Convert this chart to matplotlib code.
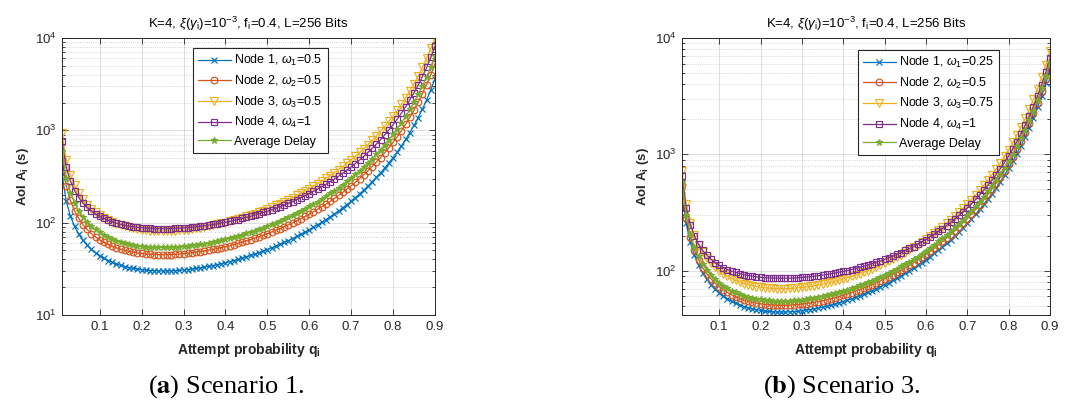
import numpy as np
import matplotlib
matplotlib.use("Agg")
import matplotlib.pyplot as plt
from matplotlib.ticker import LogLocator, FixedLocator

plt.rcParams['font.family'] = ['Liberation Sans', 'DejaVu Sans']
plt.rcParams['mathtext.fontset'] = 'custom'
plt.rcParams['mathtext.rm'] = 'Liberation Sans'
plt.rcParams['mathtext.it'] = 'Liberation Sans:italic'
plt.rcParams['mathtext.bf'] = 'Liberation Sans:bold'

# attempt probability q_i
q = [0.01, 0.02, 0.03, 0.04, 0.05, 0.06, 0.07, 0.08, 0.09, 0.10,
     0.11, 0.12, 0.13, 0.14, 0.15, 0.16, 0.17, 0.18, 0.19, 0.20,
     0.21, 0.22, 0.23, 0.24, 0.25, 0.26, 0.27, 0.28, 0.29, 0.30,
     0.31, 0.32, 0.33, 0.34, 0.35, 0.36, 0.37, 0.38, 0.39, 0.40,
     0.41, 0.42, 0.43, 0.44, 0.45, 0.46, 0.47, 0.48, 0.49, 0.50,
     0.51, 0.52, 0.53, 0.54, 0.55, 0.56, 0.57, 0.58, 0.59, 0.60,
     0.61, 0.62, 0.63, 0.64, 0.65, 0.66, 0.67, 0.68, 0.69, 0.70,
     0.71, 0.72, 0.73, 0.74, 0.75, 0.76, 0.77, 0.78, 0.79, 0.80,
     0.81, 0.82, 0.83, 0.84, 0.85, 0.86, 0.87, 0.88, 0.89, 0.90]

# Scenario 1 (AoI in s)
s1_node1 = [334, 172, 118, 91.0, 75.0, 64.4, 56.9, 51.4, 47.1, 43.8,
            41.1, 38.9, 37.2, 35.7, 34.5, 33.5, 32.6, 32.0, 31.4, 30.9,
            30.6, 30.3, 30.2, 30.0, 30.0, 30.0, 30.1, 30.3, 30.5, 30.8,
            31.1, 31.5, 32.0, 32.4, 33.0, 33.6, 34.3, 35.1, 35.9, 36.8,
            37.8, 38.9, 40.0, 41.2, 42.6, 44.1, 45.6, 47.4, 49.2, 51.2,
            53.4, 55.7, 58.3, 61.0, 64.0, 67.3, 70.9, 74.8, 79.1, 83.8,
            89.0, 94.7, 101, 108, 116, 124, 134, 145, 157, 171,
            187, 205, 225, 249, 277, 309, 346, 391, 443, 507,
            584, 679, 796, 944, 1133, 1377, 1700, 2137, 2744, 3611]
s1_node2 = [490, 252, 174, 134, 111, 95.3, 84.4, 76.2, 70.0, 65.2,
            61.3, 58.1, 55.5, 53.3, 51.6, 50.1, 48.9, 47.9, 47.0, 46.4,
            45.9, 45.5, 45.2, 45.1, 45.0, 45.1, 45.2, 45.5, 45.8, 46.2,
            46.6, 47.2, 47.9, 48.6, 49.4, 50.4, 51.3, 52.4, 53.7, 55.0,
            56.4, 58.0, 59.7, 61.5, 63.5, 65.6, 67.9, 70.4, 73.1, 76.0,
            79.2, 82.6, 86.3, 90.4, 94.8, 99.6, 105, 110, 117, 124,
            131, 140, 149, 159, 170, 183, 197, 213, 231, 251,
            274, 300, 331, 365, 405, 452, 507, 572, 649, 742,
            855, 993, 1165, 1380, 1656, 2013, 2485, 3124, 4010, 5277]
s1_node3 = [942, 483, 330, 254, 209, 179, 157, 142, 130, 120,
            113, 107, 101, 97.3, 93.9, 91.0, 88.7, 86.7, 85.1, 83.8,
            82.9, 82.1, 81.6, 81.3, 81.2, 81.3, 81.6, 82.0, 82.6, 83.4,
            84.3, 85.4, 86.7, 88.1, 89.7, 91.5, 93.5, 95.6, 98.0, 100,
            103, 106, 110, 113, 117, 121, 125, 130, 135, 141,
            147, 154, 161, 169, 178, 187, 197, 208, 220, 234,
            248, 264, 282, 302, 324, 349, 376, 407, 442, 481,
            525, 576, 634, 701, 779, 870, 976, 1102, 1252, 1432,
            1650, 1918, 2250, 2668, 3201, 3893, 4807, 6044, 7761, 9950]
s1_node4 = [766, 403, 282, 222, 187, 163, 146, 134, 124, 117,
            111, 106, 102, 98.6, 96.0, 93.6, 91.8, 90.3, 89.0, 88.0,
            87.2, 86.6, 86.2, 86.0, 85.9, 86.0, 86.2, 86.6, 87.0, 87.7,
            88.4, 89.3, 90.3, 91.4, 92.6, 94.1, 95.6, 97.3, 99.2, 101,
            103, 106, 108, 111, 114, 117, 121, 125, 129, 133,
            138, 143, 149, 155, 162, 169, 177, 186, 196, 206,
            218, 231, 245, 260, 278, 297, 319, 343, 371, 402,
            437, 477, 523, 576, 637, 709, 793, 892, 1011, 1153,
            1326, 1537, 1800, 2130, 2551, 3098, 3821, 4798, 6154, 8094]
s1_avg = [597, 307, 211, 163, 134, 115, 102, 92.1, 84.5, 78.6,
          73.8, 69.9, 66.7, 64.1, 62.0, 60.1, 58.7, 57.5, 56.4, 55.6,
          55.0, 54.6, 54.2, 54.1, 54.0, 54.0, 54.2, 54.5, 54.9, 55.4,
          56.0, 56.6, 57.5, 58.3, 59.3, 60.5, 61.7, 63.0, 64.5, 66.1,
          67.9, 69.8, 71.8, 74.1, 76.5, 79.1, 81.9, 85.0, 88.2, 91.8,
          95.7, 99.9, 104, 109, 115, 121, 127, 134, 142, 150,
          159, 169, 181, 193, 207, 223, 240, 259, 281, 306,
          334, 366, 403, 445, 494, 551, 618, 697, 792, 905,
          1043, 1212, 1421, 1684, 2021, 2457, 3034, 3813, 4895, 6443]

# Scenario 3 (AoI in s)
s3_node1 = [498, 256, 175, 135, 111, 95.3, 84.1, 75.8, 69.5, 64.5,
            60.6, 57.3, 54.6, 52.5, 50.7, 49.1, 47.9, 46.9, 46.0, 45.4,
            44.8, 44.5, 44.2, 44.0, 44.0, 44.0, 44.2, 44.4, 44.7, 45.1,
            45.6, 46.2, 46.9, 47.6, 48.4, 49.4, 50.4, 51.5, 52.8, 54.1,
            55.6, 57.2, 58.9, 60.8, 62.8, 65.0, 67.3, 69.9, 72.6, 75.6,
            78.8, 82.3, 86.1, 90.3, 94.8, 99.7, 105, 111, 117, 124,
            132, 141, 150, 160, 172, 185, 199, 216, 234, 255,
            278, 305, 336, 371, 412, 460, 516, 582, 661, 756,
            871, 1012, 1187, 1407, 1689, 2053, 2536, 3187, 4092, 5386]
s3_node2 = [546, 282, 194, 150, 124, 106, 94.1, 85.1, 78.1, 72.7,
            68.4, 64.8, 61.9, 59.5, 57.6, 55.9, 54.5, 53.4, 52.5, 51.8,
            51.2, 50.8, 50.5, 50.3, 50.2, 50.3, 50.5, 50.7, 51.1, 51.5,
            52.0, 52.7, 53.4, 54.2, 55.1, 56.2, 57.3, 58.5, 59.9, 61.3,
            63.0, 64.7, 66.6, 68.6, 70.8, 73.2, 75.7, 78.5, 81.5, 84.8,
            88.4, 92.2, 96.3, 101, 106, 111, 117, 123, 130, 138,
            146, 156, 166, 178, 190, 204, 220, 238, 258, 280,
            306, 335, 369, 408, 452, 505, 566, 638, 725, 828,
            954, 1108, 1300, 1540, 1848, 2246, 2773, 3485, 4474, 5888]
s3_node3 = [725, 375, 259, 201, 167, 144, 128, 116, 107, 99.6,
            93.9, 89.2, 85.4, 82.2, 79.6, 77.4, 75.6, 74.2, 72.9, 72.0,
            71.2, 70.6, 70.3, 70.0, 70.0, 70.0, 70.2, 70.6, 71.0, 71.6,
            72.3, 73.2, 74.2, 75.2, 76.4, 77.8, 79.3, 80.9, 82.7, 84.6,
            86.8, 89.0, 91.5, 94.2, 97.1, 100, 104, 107, 111, 116,
            120, 125, 131, 137, 143, 150, 158, 166, 176, 186,
            197, 209, 223, 238, 255, 273, 294, 318, 344, 374,
            408, 446, 491, 542, 601, 670, 751, 846, 961, 1097,
            1264, 1467, 1720, 2038, 2444, 2970, 3666, 4607, 5913, 7781]
s3_node4 = [647, 348, 248, 199, 169, 149, 136, 125, 117, 111,
            106, 102, 99.1, 96.4, 94.2, 92.2, 90.7, 89.5, 88.4, 87.6,
            86.9, 86.5, 86.1, 86.0, 85.9, 86.0, 86.1, 86.4, 86.8, 87.3,
            87.9, 88.6, 89.5, 90.4, 91.4, 92.6, 93.9, 95.2, 96.8, 98.4,
            100, 102, 104, 107, 109, 112, 115, 118, 121, 125,
            129, 133, 138, 143, 149, 155, 161, 169, 177, 185,
            195, 205, 217, 230, 244, 260, 278, 298, 321, 346,
            376, 409, 447, 490, 541, 600, 669, 751, 849, 966,
            1109, 1284, 1500, 1773, 2121, 2572, 3168, 3975, 5094, 6695]
s3_avg = [579, 299, 207, 160, 133, 114, 101, 91.9, 84.5, 78.8,
          74.2, 70.5, 67.4, 64.9, 62.8, 61.0, 59.6, 58.4, 57.5, 56.7,
          56.1, 55.6, 55.3, 55.2, 55.1, 55.2, 55.3, 55.6, 56.0, 56.4,
          57.0, 57.7, 58.4, 59.3, 60.2, 61.4, 62.5, 63.8, 65.3, 66.8,
          68.5, 70.3, 72.3, 74.5, 76.8, 79.3, 82.0, 85.0, 88.1, 91.6,
          95.4, 99.4, 104, 109, 114, 119, 126, 132, 140, 148,
          157, 167, 178, 190, 203, 218, 235, 253, 274, 298,
          325, 356, 392, 433, 480, 535, 600, 676, 768, 877,
          1010, 1173, 1375, 1629, 1954, 2375, 2932, 3685, 4730, 6224]

labels_s1 = [r'Node 1, $\omega_{\rm 1}$=0.5', r'Node 2, $\omega_{\rm 2}$=0.5',
             r'Node 3, $\omega_{\rm 3}$=0.5', r'Node 4, $\omega_{\rm 4}$=1', 'Average Delay']
labels_s3 = [r'Node 1, $\omega_{\rm 1}$=0.25', r'Node 2, $\omega_{\rm 2}$=0.5',
             r'Node 3, $\omega_{\rm 3}$=0.75', r'Node 4, $\omega_{\rm 4}$=1', 'Average Delay']
xticks = [0.1, 0.2, 0.3, 0.4, 0.5, 0.6, 0.7, 0.8, 0.9]
xticklabels = ['0.1', '0.2', '0.3', '0.4', '0.5', '0.6', '0.7', '0.8', '0.9']

colors = ['#0072BD', '#D95319', '#EDB120', '#7E2F8E', '#77AC30']
markers = ['x', 'o', 'v', 's', '*']
msizes = [4.5, 4.8, 5.5, 5.0, 5.0]
txt = '#262626'

title = r'K=4, $\xi(\gamma_{\rm i})$=10$^{-3}$, f$_{\rm i}$=0.4, L=256 Bits'

fig = plt.figure(figsize=(10.7, 4.01), dpi=100)
W, H = 1070, 401


def panel(rect, series, labels, ylim, yticks, leg_anchor):
    l, t, r, b = rect
    ax = fig.add_axes([l / W, 1 - b / H, (r - l) / W, (b - t) / H])
    for ys, c, m, ms, lab in zip(series, colors, markers, msizes, labels):
        open_m = m in ('o', 'v', 's')
        ax.plot(q, ys, color=c, marker=m, ms=ms, lw=0.9, mew=0.85,
                mfc='none' if open_m else c, label=lab)
    ax.set_yscale('log')
    ax.set_xlim(0.01, 0.9)
    ax.set_ylim(*ylim)
    ax.xaxis.set_major_locator(FixedLocator(xticks))
    ax.set_xticklabels(xticklabels)
    ax.yaxis.set_major_locator(FixedLocator(yticks))
    ax.yaxis.set_minor_locator(LogLocator(base=10, subs=np.arange(2, 10), numticks=20))
    ax.tick_params(which='both', direction='in', top=True, right=True,
                   colors=txt, labelsize=9.5, width=0.6)
    ax.tick_params(which='major', length=4, pad=4)
    ax.tick_params(which='minor', length=2)
    ax.tick_params(axis='x', which='minor', top=False, bottom=False)
    ax.grid(True, which='major', color='#262626', alpha=0.15, lw=0.7)
    ax.grid(True, which='minor', axis='y', color='#262626', alpha=0.25, lw=0.6, ls=':')
    ax.set_axisbelow(True)
    for s in ax.spines.values():
        s.set_color(txt)
        s.set_linewidth(0.7)
    ax.set_title(title, fontsize=9.5, color='black', pad=7)
    ax.set_xlabel(r'Attempt probability q$_{\bf i}$', fontsize=10,
                  fontweight='bold', color=txt, labelpad=6)
    ax.set_ylabel(r'AoI A$_{\bf i}$ (s)', fontsize=9.5, fontweight='bold',
                  color=txt, labelpad=3)
    leg = ax.legend(loc='upper left', bbox_to_anchor=leg_anchor, borderaxespad=0,
                    fontsize=9, frameon=True, fancybox=False, framealpha=1,
                    edgecolor='#262626', handlelength=2.65, labelspacing=0.45,
                    borderpad=0.4, handletextpad=0.25)
    leg.get_frame().set_linewidth(0.8)
    return ax


panel((62, 38, 435, 315), [s1_node1, s1_node2, s1_node3, s1_node4, s1_avg],
      labels_s1, (10, 1e4), [1e1, 1e2, 1e3, 1e4], (0.351, 0.964))
panel((682, 38, 1050, 315), [s3_node1, s3_node2, s3_node3, s3_node4, s3_avg],
      labels_s3, (41.5, 1e4), [1e2, 1e3, 1e4], (0.478, 0.957))

fig.text(226 / W, 1 - 387 / H, r'($\mathbf{a}$) Scenario 1.', ha='center', va='center',
         fontsize=19, family='Liberation Serif', math_fontfamily='stix')
fig.text(842 / W, 1 - 387 / H, r'($\mathbf{b}$) Scenario 3.', ha='center', va='center',
         fontsize=19, family='Liberation Serif', math_fontfamily='stix')

fig.savefig('out.png', dpi=100)
